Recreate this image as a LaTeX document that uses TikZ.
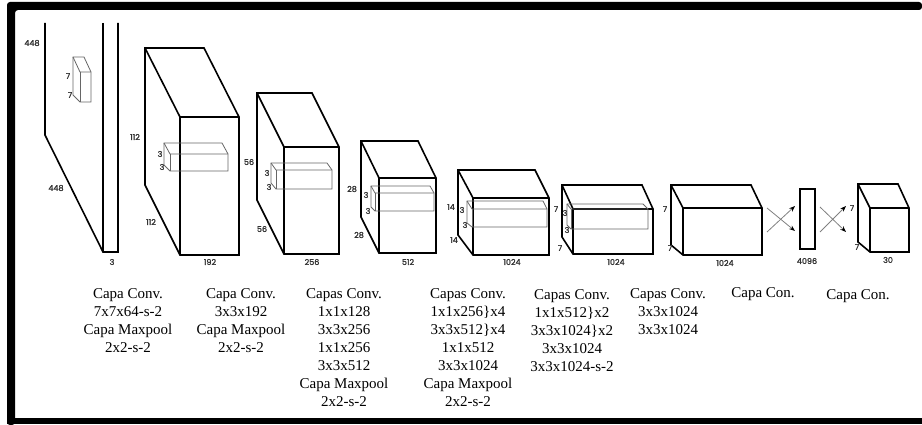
\documentclass[tikz,border=0pt]{standalone}
\usepackage{fontspec}
\setmainfont{Liberation Serif}
\newfontfamily\lblfont[FakeBold=1.6]{Poppins}
\usetikzlibrary{arrows.meta}
% #1 style, #2 back-left x, #3 back-top y, #4 back-top-right x, #5 front-left x,
% #6 front-top y, #7 front-right x, #8 bottom y, #9 back-left bottom y
\newcommand{\layerbox}[9]{%
  \draw[#1] (#2,#3) -- (#2,#9) -- (#5,#8) -- (#7,#8) -- (#7,#6) -- (#4,#3) -- cycle;
  \draw[#1] (#2,#3) -- (#5,#6) -- (#7,#6);
  \draw[#1] (#5,#6) -- (#5,#8);
}
\begin{document}
\begin{tikzpicture}[x=1pt,y=-1pt,
  big/.style={line width=1.6pt, line join=miter},
  small/.style={line width=0.8pt, draw=black!60},
  dim/.style={font=\lblfont\fontsize{8}{9}\selectfont, text=black!80, inner sep=0pt},
  captext/.style={font=\fontsize{15}{18}\selectfont, align=center, anchor=north, inner sep=0pt},
  fc/.style={draw=black!50, line width=0.8pt, -{Stealth[length=6pt,width=4.5pt,black]}}]
\useasboundingbox (0,0) rectangle (922,425);
% frame
\fill[black, rounded corners=3pt] (7,425) -- (7,2) -- (922,2) -- (922,10) -- (15,10) -- (15,425) -- cycle;
\fill[black] (7,418) rectangle (922,424);

% input plane
\draw[big] (45,23) -- (45,135) -- (103,252) -- (118,252) -- (118,23);
\draw[big] (103,23) -- (103,252);
\layerbox{small}{73}{57}{84}{80}{72}{91}{102}{95}
% layer 2
\layerbox{big}{145}{48}{204}{180}{117}{239}{255}{185}
\layerbox{small}{164}{143}{222}{170}{154}{228}{171}{165}
% layer 3
\layerbox{big}{257}{93}{312}{284}{147}{339}{254}{200}
\layerbox{small}{271}{163}{327}{276}{170}{332}{189}{183}
% layer 4
\layerbox{big}{361}{141}{418}{379}{178}{436}{253}{217}
\layerbox{small}{371}{186}{430}{375}{193}{434}{211}{207}
% layer 5
\layerbox{big}{458}{170}{535}{473}{198}{549}{255}{235}
\layerbox{small}{467}{201}{543}{472}{209}{547}{227}{223}
% layer 6
\layerbox{big}{562}{185}{642}{573}{209}{653}{254}{237}
\layerbox{small}{567}{204}{643}{571}{209}{648}{229}{225}
% layer 7
\layerbox{big}{671}{185}{751}{683}{208}{762}{255}{245}
% bar
\draw[big] (800,189) rectangle (815,249);
% layer 8
\layerbox{big}{858}{184}{898}{870}{208}{909}{252}{242}

% fully connected arrows
\coordinate (c1a) at (767,208); \coordinate (c1b) at (795,231);
\coordinate (c1c) at (767,232); \coordinate (c1d) at (795,206);
\coordinate (c2a) at (820,207); \coordinate (c2b) at (846,232);
\coordinate (c2c) at (820,232); \coordinate (c2d) at (846,206);
\draw[fc] (c1a) -- (c1b);
\draw[fc] (c1c) -- (c1d);
\draw[fc] (c2a) -- (c2b);
\draw[fc] (c2c) -- (c2d);

% dimension labels
\node[dim] (d1a) at (32,43) {448};
\node[dim] (d1b) at (56,188) {448};
\node[dim] (d1c) at (112,262) {3};
\node[dim] (d1d) at (68,76) {7};
\node[dim] (d1e) at (70,95) {7};
\node[dim] (d2a) at (135,137) {112};
\node[dim] (d2b) at (151,222) {112};
\node[dim] (d2c) at (210,262) {192};
\node[dim] (d2d) at (160,154) {3};
\node[dim] (d2e) at (162,167) {3};
\node[dim] (d3a) at (249,162) {56};
\node[dim] (d3b) at (262,229) {56};
\node[dim] (d3c) at (312,262) {256};
\node[dim] (d3d) at (267,173) {3};
\node[dim] (d3e) at (269,187) {3};
\node[dim] (d4a) at (352,189) {28};
\node[dim] (d4b) at (359,235) {28};
\node[dim] (d4c) at (408,262) {512};
\node[dim] (d4d) at (366,195) {3};
\node[dim] (d4e) at (368,211) {3};
\node[dim] (d5a) at (451,207) {14};
\node[dim] (d5b) at (454,240) {14};
\node[dim] (d5c) at (512,262) {1024};
\node[dim] (d5d) at (462,210) {3};
\node[dim] (d5e) at (465,225) {3};
\node[dim] (d6a) at (556,209) {7};
\node[dim] (d6b) at (560,248) {7};
\node[dim] (d6c) at (616,262) {1024};
\node[dim] (d6d) at (565,213) {3};
\node[dim] (d6e) at (567,230) {3};
\node[dim] (d7a) at (665,209) {7};
\node[dim] (d7b) at (670,248) {7};
\node[dim] (d7c) at (725,263) {1024};
\node[dim] (d8) at (807,261) {4096};
\node[dim] (d9a) at (852,208) {7};
\node[dim] (d9b) at (857,247) {7};
\node[dim] (d9c) at (888,260) {30};

% captions
\node[captext] (t1) at (128,288) {Capa Conv.\\7x7x64-s-2\\Capa Maxpool\\2x2-s-2};
\node[captext] (t2) at (241,288) {Capa Conv.\\3x3x192\\Capa Maxpool\\2x2-s-2};
\node[captext] (t3) at (344,288) {Capas Conv.\\1x1x128\\3x3x256\\1x1x256\\3x3x512\\Capa Maxpool\\2x2-s-2};
\node[captext] (t4) at (468,288) {Capas Conv.\\1x1x256\}x4\\3x3x512\}x4\\1x1x512\\3x3x1024\\Capa Maxpool\\2x2-s-2};
\node[captext] (t5) at (572,289) {Capas Conv.\\1x1x512\}x2\\3x3x1024\}x2\\3x3x1024\\3x3x1024-s-2};
\node[captext] (t6) at (668,288) {Capas Conv.\\3x3x1024\\3x3x1024};
\node[captext] (t7) at (763,287) {Capa Con.};
\node[captext] (t8) at (858,289) {Capa Con.};
\end{tikzpicture}
\end{document}
